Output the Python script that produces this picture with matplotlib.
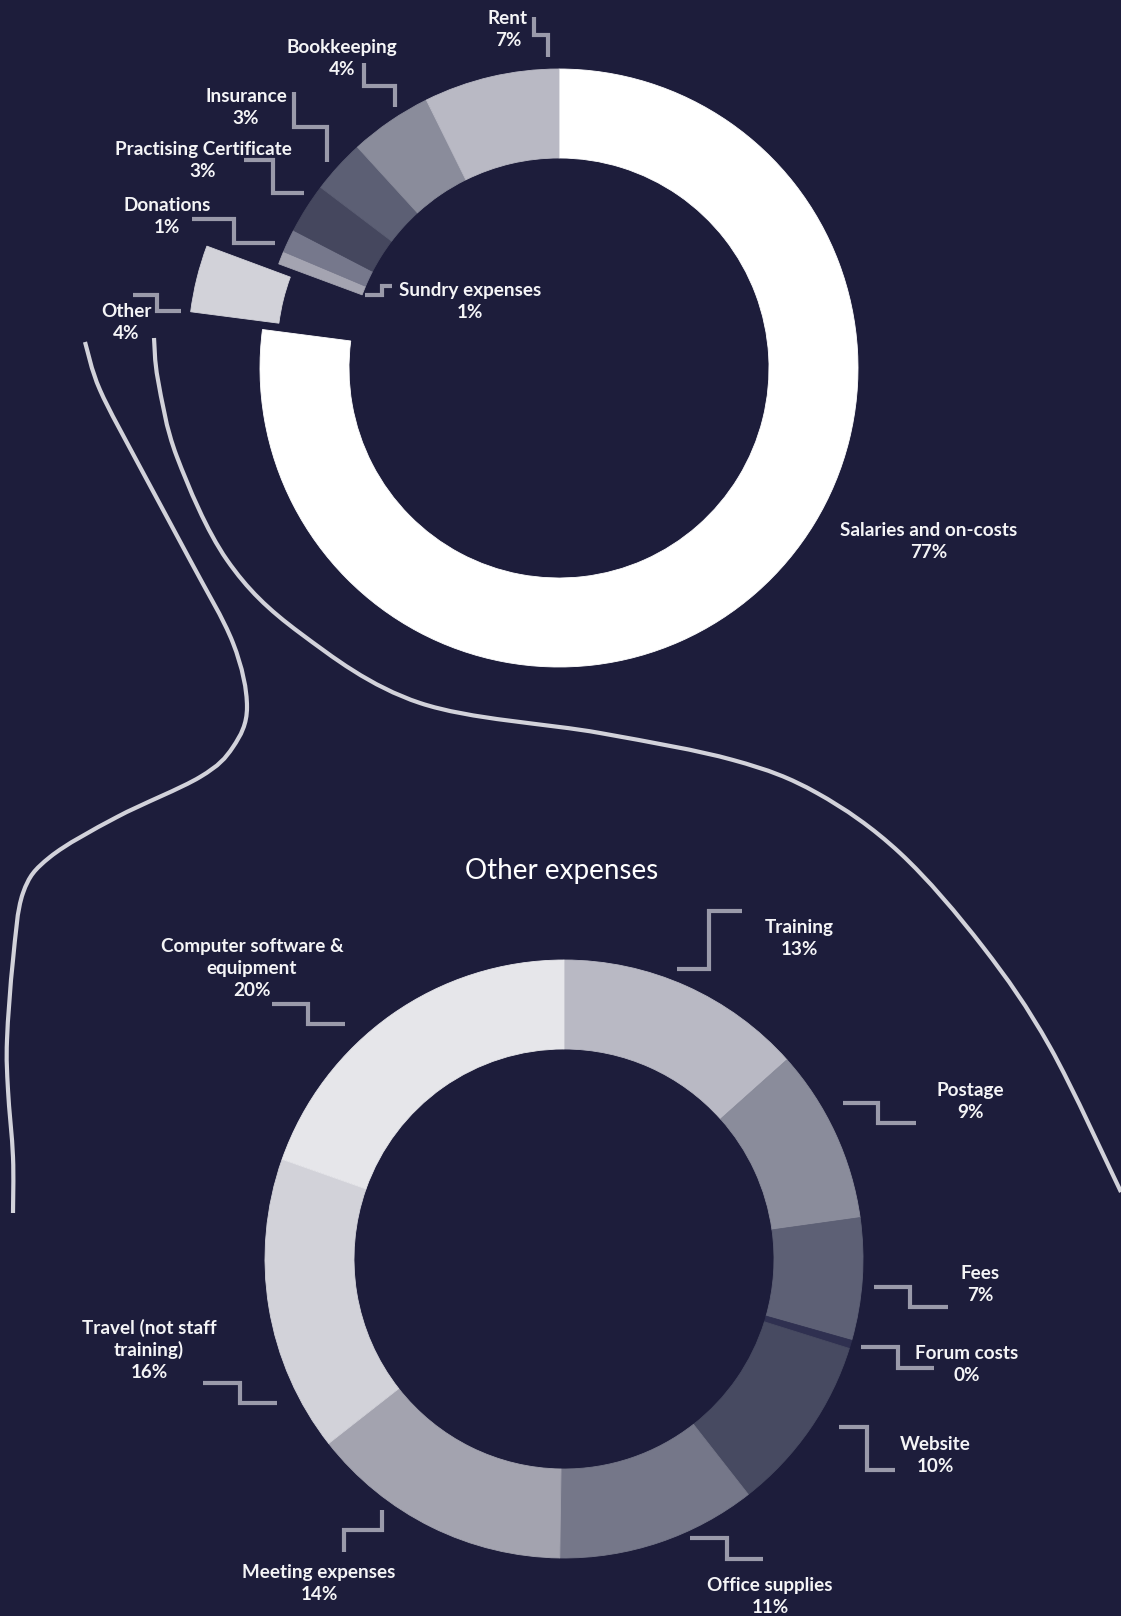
import numpy as np
import matplotlib
matplotlib.use('Agg')
import matplotlib.pyplot as plt
from matplotlib.path import Path
from matplotlib.patches import PathPatch

plt.rcParams['font.family'] = ['Lato', 'DejaVu Sans']

# main expenses, clockwise from 12 o'clock
main_labels = ['Salaries and on-costs', 'Other', 'Sundry expenses', 'Donations',
               'Practising Certificate', 'Insurance', 'Bookkeeping', 'Rent']
main_values = [76.9, 3.6, 0.7, 1.25, 2.7, 2.9, 4.45, 7.3]
main_colors = ['#ffffff', '#d2d2d9', '#a4a4b1', '#76788c',
               '#45475e', '#5c5f74', '#8a8c9b', '#b9b9c4']

# breakdown of "Other", clockwise from 12 o'clock
other_labels = ['Training', 'Postage', 'Fees', 'Forum costs', 'Website',
                'Office supplies', 'Meeting expenses', 'Travel (not staff\ntraining)',
                'Computer software &\nequipment']
other_values = [13.4, 9.4, 6.6, 0.45, 9.6, 10.8, 14.2, 16.0, 19.6]
other_colors = ['#b9b9c4', '#8a8c9b', '#5d6075', '#2f3050', '#474a61',
                '#757789', '#a3a3af', '#d2d2d9', '#e6e6ea']

title = 'Other expenses'

# ---- layout (pixels, y measured from top) ----
W, H = 1121, 1616
BG = '#1d1d3b'
TXT = '#f4f4f6'
LEAD = '#9a9aaa'
CURVE = '#d2d2da'

main_center = (559, 368)
other_center = (564, 1259)
R = 299
RING = 89
explode_px = 74

main_text_pos = [(929, 529), (126, 310), (470, 289), (167, 204),
                 (203, 148), (246, 95), (342, 46), (508, 17)]
other_text_pos = [(799, 926), (970, 1089), (980, 1272), (967, 1352), (935, 1443),
                  (770, 1584), (319, 1571), (149, 1327), (252, 945)]

main_leaders = [None,
                [(133, 295), (157, 295), (157, 311), (181, 311)],
                [(392, 286), (382, 286), (382, 295), (365, 295)],
                [(192, 219), (234, 219), (234, 243), (275, 243)],
                [(244, 160), (273, 160), (273, 193), (304, 193)],
                [(294, 92), (294, 127), (327, 127), (327, 162)],
                [(364, 63), (364, 86), (395, 86), (395, 107)],
                [(534, 17), (534, 35), (548, 35), (548, 57)]]
other_leaders = [[(742, 911), (709, 911), (709, 969), (677, 969)],
                 [(843, 1103), (878, 1103), (878, 1123), (916, 1123)],
                 [(874, 1287), (910, 1287), (910, 1307), (948, 1307)],
                 [(861, 1347), (898, 1347), (898, 1368), (934, 1368)],
                 [(839, 1427), (867, 1427), (867, 1470), (895, 1470)],
                 [(690, 1538), (727, 1538), (727, 1559), (763, 1559)],
                 [(382, 1510), (382, 1530), (344, 1530), (344, 1552)],
                 [(203, 1383), (240, 1383), (240, 1403), (277, 1403)],
                 [(272, 1004), (308, 1004), (308, 1024), (345, 1024)]]

# connector curves from the exploded "Other" slice down to the second chart
curve_left = [(85, 342), (100, 390), (140, 467), (190, 560), (233, 643), (247, 707),
              (233, 747), (200, 777), (117, 817), (50, 857), (23, 893), (13, 960),
              (7, 1040), (8, 1090), (13, 1157), (13, 1213)]
curve_right = [(154, 338), (158, 380), (177, 457), (227, 560), (300, 633), (420, 703),
               (600, 733), (733, 760), (817, 793), (900, 853), (983, 947),
               (1050, 1047), (1121, 1192)]


def flip(p):
    return (p[0], H - p[1])


def smooth_path(pts):
    pts = np.array([flip(p) for p in pts], dtype=float)
    verts = [pts[0]]
    codes = [Path.MOVETO]
    n = len(pts)
    for i in range(n - 1):
        p0 = pts[max(i - 1, 0)]
        p1 = pts[i]
        p2 = pts[i + 1]
        p3 = pts[min(i + 2, n - 1)]
        c1 = p1 + (p2 - p0) / 6.0
        c2 = p2 - (p3 - p1) / 6.0
        verts += [c1, c2, p2]
        codes += [Path.CURVE4] * 3
    return Path(verts, codes)


fig = plt.figure(figsize=(W / 100, H / 100), dpi=100, facecolor=BG)
ax = fig.add_axes([0, 0, 1, 1])
ax.set_facecolor(BG)

for pts in (curve_left, curve_right):
    ax.add_patch(PathPatch(smooth_path(pts), facecolor='none', edgecolor=CURVE,
                           lw=3.0, capstyle='butt', zorder=1))

explode = [explode_px if l == 'Other' else 0 for l in main_labels]
w1, _ = ax.pie(main_values, colors=main_colors, startangle=90, counterclock=False,
               center=flip(main_center), radius=R, explode=explode,
               wedgeprops=dict(width=RING, linewidth=0))
w2, _ = ax.pie(other_values, colors=other_colors, startangle=90, counterclock=False,
               center=flip(other_center), radius=R,
               wedgeprops=dict(width=RING, linewidth=0))
for w in list(w1) + list(w2):
    w.set_edgecolor(w.get_facecolor())
    w.set_linewidth(0.6)
    w.set_zorder(2)


def put_labels(labels, values, positions, leaders):
    total = sum(values)
    for lab, v, pos, lead in zip(labels, values, positions, leaders):
        lines = lab.split('\n') + [f'{v / total * 100:.0f}%']
        x, y = pos
        for k, line in enumerate(lines):
            ax.text(x, H - (y + k * 22 + 7), line, color=TXT, fontsize=13.6,
                    fontweight='bold', ha='center', va='baseline', zorder=4)
        if lead:
            xs, ys = zip(*[flip(p) for p in lead])
            ax.plot(xs, ys, color=LEAD, lw=3.0, solid_capstyle='butt',
                    solid_joinstyle='miter', zorder=3)


put_labels(main_labels, main_values, main_text_pos, main_leaders)
put_labels(other_labels, other_values, other_text_pos, other_leaders)

ax.text(562, H - 879, title, color='#ffffff', fontsize=20, ha='center',
        va='baseline', zorder=4)

ax.set_xlim(0, W)
ax.set_ylim(0, H)
ax.set_aspect('auto')
ax.axis('off')

fig.savefig('out.png', dpi=100, facecolor=BG)
